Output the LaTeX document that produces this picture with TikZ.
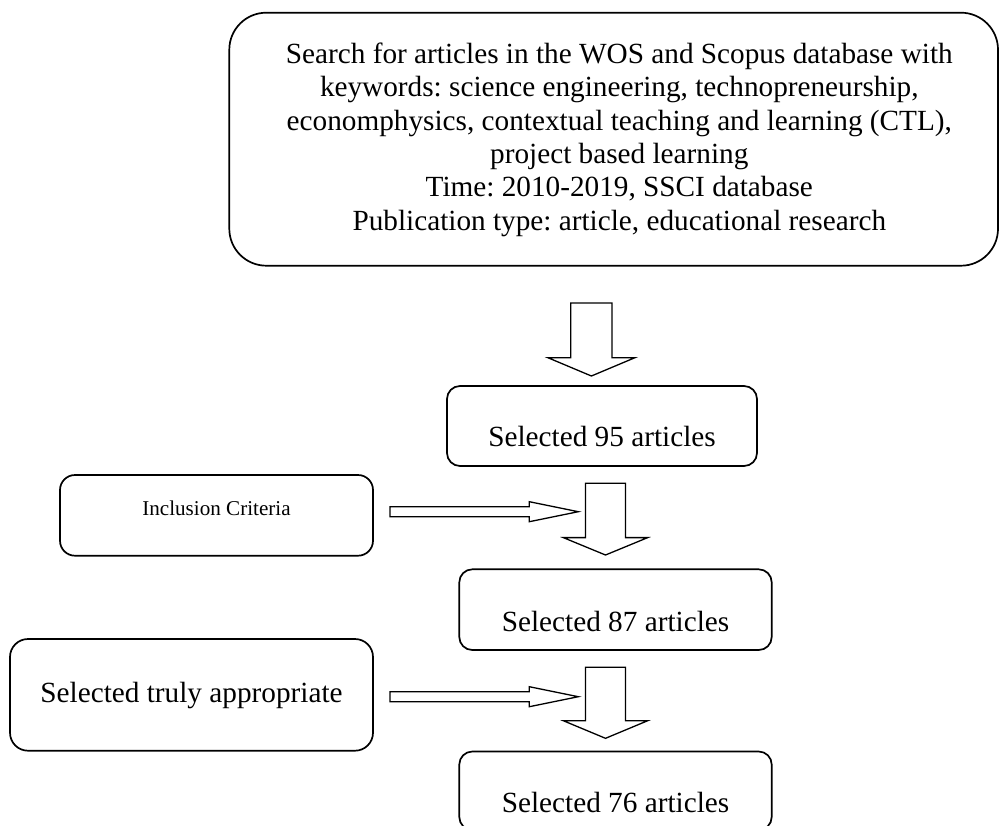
\documentclass[tikz,border=0pt]{standalone}
\usepackage{fontspec}
\setmainfont{Liberation Serif}
\frenchspacing
\usetikzlibrary{calc}
\tikzset{
  box/.style={draw=black, line width=1.7pt, inner sep=0pt, align=center,
    font=\fontsize{29.25pt}{33.3pt}\selectfont\frenchspacing},
  smallbox/.style={box, font=\fontsize{21.1pt}{25pt}\selectfont\frenchspacing},
  blockarrow/.style={draw=black, line width=1.3pt, line join=miter, fill=white}
}
\newcommand{\downblock}[5]{%
  \draw[blockarrow] let \p1=(#1), \p2=(#2) in
    (\x1-#3,\y1) -- (\x1+#3,\y1) -- (\x1+#3,\y2+#5) -- (\x1+#4,\y2+#5)
    -- (\x1,\y2) -- (\x1-#4,\y2+#5) -- (\x1-#3,\y2+#5) -- cycle;}
\newcommand{\rightblock}[2]{%
  \draw[blockarrow] let \p1=(#1), \p2=(#2) in
    (\x1,\y1+5pt) -- (\x2-49pt,\y1+5pt) -- (\x2-49pt,\y1+10pt) -- (\x2,\y1)
    -- (\x2-49pt,\y1-10pt) -- (\x2-49pt,\y1-5pt) -- (\x1,\y1-5pt) -- cycle;}
\begin{document}
\begin{tikzpicture}[x=1pt,y=-1pt]
\useasboundingbox (0,0) rectangle (1000,825);
\clip (0,0) rectangle (1000,825);

\node[box, rounded corners=37pt, minimum width=768.7pt, minimum height=253pt] (search) at (613.65,139.2) {};
\node[font=\fontsize{29.25pt}{33.3pt}\selectfont\frenchspacing, align=center, inner sep=0pt] (searchtext) at (619.3,139.8)
  {Search for articles in the WOS and Scopus database with\\
   keywords: science engineering, technopreneurship,\\
   economphysics, contextual teaching and learning (CTL),\\
   project based learning\\
   Time: 2010-2019, SSCI database\\
   Publication type: article, educational research};

\node[box, rounded corners=13pt, minimum width=310pt, minimum height=80pt,
  text height=60.7pt, text depth=19.3pt] (s95) at (602,426) {Selected 95 articles};
\node[smallbox, rounded corners=15pt, minimum width=313pt, minimum height=80.7pt,
  text height=40.7pt, text depth=40pt] (incl) at (216.5,515.35) {Inclusion Criteria};
\node[box, rounded corners=13pt, minimum width=312.4pt, minimum height=80.7pt,
  text height=62.4pt, text depth=18.3pt] (s87) at (615.5,609.65) {Selected 87 articles};
\node[box, rounded corners=18pt, minimum width=363pt, minimum height=111.7pt,
  text height=63.7pt, text depth=48pt] (truly) at (191.5,694.85) {Selected truly appropriate};
\node[box, rounded corners=13pt, minimum width=312.4pt, minimum height=78.5pt,
  text height=60.8pt, text depth=17.7pt] (s76) at (615.5,790.75) {Selected 76 articles};

\coordinate (a1s) at (591.4,303);
\coordinate (a1e) at (591.4,376);
\coordinate (a2s) at (605.5,483.3);
\coordinate (a2e) at (605.5,555);
\coordinate (a3s) at (605.5,667.3);
\coordinate (a3e) at (605.5,738.3);
\coordinate (r1s) at (390,511.7);
\coordinate (r1e) at (578.3,511.7);
\coordinate (r2s) at (390,696.7);
\coordinate (r2e) at (578.3,696.7);

\downblock{a1s}{a1e}{20.65pt}{43.5pt}{18.3pt}
\rightblock{r1s}{r1e}
\downblock{a2s}{a2e}{20pt}{42.2pt}{17.4pt}
\rightblock{r2s}{r2e}
\downblock{a3s}{a3e}{20pt}{42.2pt}{17.6pt}
\end{tikzpicture}
\end{document}
